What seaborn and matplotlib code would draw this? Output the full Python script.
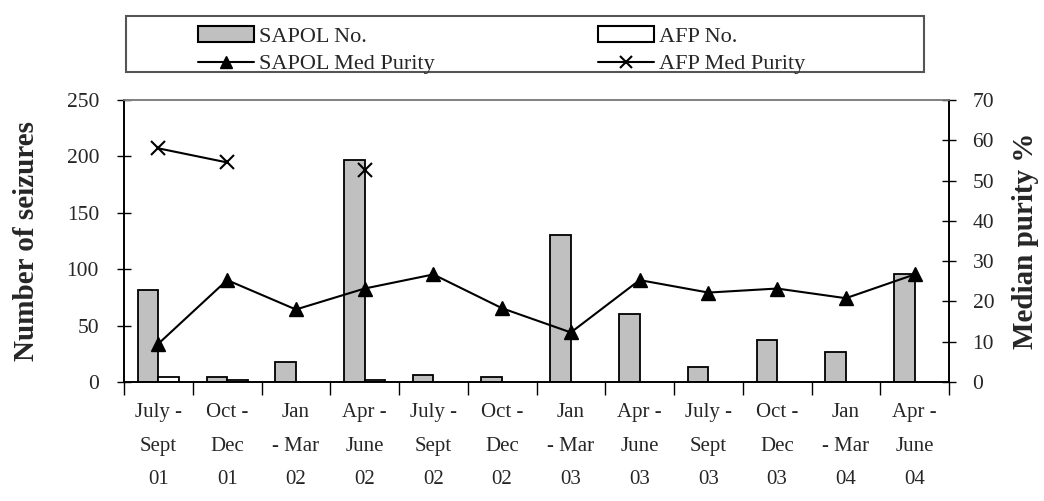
import numpy as np
import pandas as pd
import matplotlib
matplotlib.use("Agg")
import matplotlib.pyplot as plt
from matplotlib.patches import Patch, Rectangle
from matplotlib.lines import Line2D
import seaborn as sns

# data
periods = ["July -\nSept\n01", "Oct -\nDec\n01", "Jan\n- Mar\n02", "Apr -\nJune\n02",
           "July -\nSept\n02", "Oct -\nDec\n02", "Jan\n- Mar\n03", "Apr -\nJune\n03",
           "July -\nSept\n03", "Oct -\nDec\n03", "Jan\n- Mar\n04", "Apr -\nJune\n04"]
sapol_no = [82, 4, 18, 197, 6, 4, 130, 60, 13, 37, 27, 96]
afp_no = [4, 2, np.nan, 2, np.nan, np.nan, np.nan, np.nan, np.nan, np.nan, np.nan, np.nan]
sapol_purity = [9.5, 25.3, 18, 23.2, 26.7, 18.3, 12.3, 25.3, 22.2, 23.2, 20.8, 26.7]
afp_purity = [58, 54.5, np.nan, 52.6, np.nan, np.nan, np.nan, np.nan, np.nan, np.nan, np.nan, np.nan]

sns.set_style("white")
plt.rcParams['font.family'] = ['Liberation Serif', 'DejaVu Serif']

df = pd.concat([
    pd.DataFrame({'period': periods, 'count': sapol_no, 'src': 'SAPOL No.'}),
    pd.DataFrame({'period': periods, 'count': afp_no, 'src': 'AFP No.'}),
], ignore_index=True)

W, H = 1044, 501
fig = plt.figure(figsize=(W/100, H/100), dpi=100)
ax = fig.add_axes([124/W, 1-382/H, (949-124)/W, (382-100)/H])

sns.barplot(data=df, x='period', y='count', hue='src', order=periods,
            palette={'SAPOL No.': '#c0c0c0', 'AFP No.': 'white'},
            edgecolor='black', linewidth=1.3, width=0.6, gap=0, legend=False, ax=ax)

ax.set_xlim(-0.5, len(periods)-0.5)
ax.set_ylim(0, 250)
ax.set_yticks([0, 50, 100, 150, 200, 250])
ax.set_xlabel("")
ax.set_ylabel("Number of seizures", fontsize=21, fontweight='bold', labelpad=19)

# category labels on minor ticks, tick marks at boundaries
ax.set_xticks(np.arange(-0.5, len(periods)), labels=[""]*(len(periods)+1))
ax.set_xticks(np.arange(len(periods)), labels=periods, minor=True)
ax.tick_params(axis='x', which='major', direction='out', length=9, width=1, color='black', bottom=True)
ax.tick_params(axis='x', which='minor', length=0, pad=15, labelsize=15)
for t in ax.get_xticklabels(minor=True):
    t.set_linespacing(2.05)
ax.tick_params(axis='y', direction='inout', length=10, width=1, color='black', left=True,
               labelsize=15.5, pad=13)

ax2 = ax.twinx()
pos = np.arange(len(periods))
ax2.plot(pos, sapol_purity, color='black', lw=1.5, marker='^', ms=10, label='SAPOL Med Purity')
ax2.plot(pos, afp_purity, color='black', lw=1.5, marker='x', ms=10, mew=1.5, label='AFP Med Purity')
ax2.set_ylim(0, 70)
ax2.set_yticks(range(0, 71, 10))
ax2.tick_params(axis='y', direction='inout', length=10, width=1, color='black', right=True,
                labelsize=15.5, pad=12)
ax2.set_ylabel("Median purity %", fontsize=21, fontweight='bold', labelpad=13)

for a in (ax, ax2):
    for s in ['left', 'right', 'bottom']:
        a.spines[s].set_color('black')
        a.spines[s].set_linewidth(1.2)
    a.spines['top'].set_color('#808080')
    a.spines['top'].set_linewidth(1.2)

# legend: box drawn separately, two columns as two legends
fig.patches.append(Rectangle((126/W, 1-72/H), (924-126)/W, 56/H, transform=fig.transFigure,
                             fill=False, edgecolor='#555555', lw=1.5))
h_left = [Patch(facecolor='#c0c0c0', edgecolor='black', lw=1.5, label='SAPOL No.'),
          Line2D([], [], color='black', lw=1.5, marker='^', ms=9, label='SAPOL Med Purity')]
h_right = [Patch(facecolor='white', edgecolor='black', lw=1.5, label='AFP No.'),
           Line2D([], [], color='black', lw=1.5, marker='x', ms=9, mew=1.5, label='AFP Med Purity')]
for hs, x0 in ((h_left, 198), (h_right, 598)):
    leg = fig.legend(handles=hs, loc='upper left', bbox_to_anchor=(x0/W, 1-26/H),
                     fontsize=16, frameon=False, handlelength=2.5, handleheight=0.75,
                     labelspacing=0.3, borderpad=0, borderaxespad=0, handletextpad=0.25)

fig.savefig("out.png", dpi=100)
